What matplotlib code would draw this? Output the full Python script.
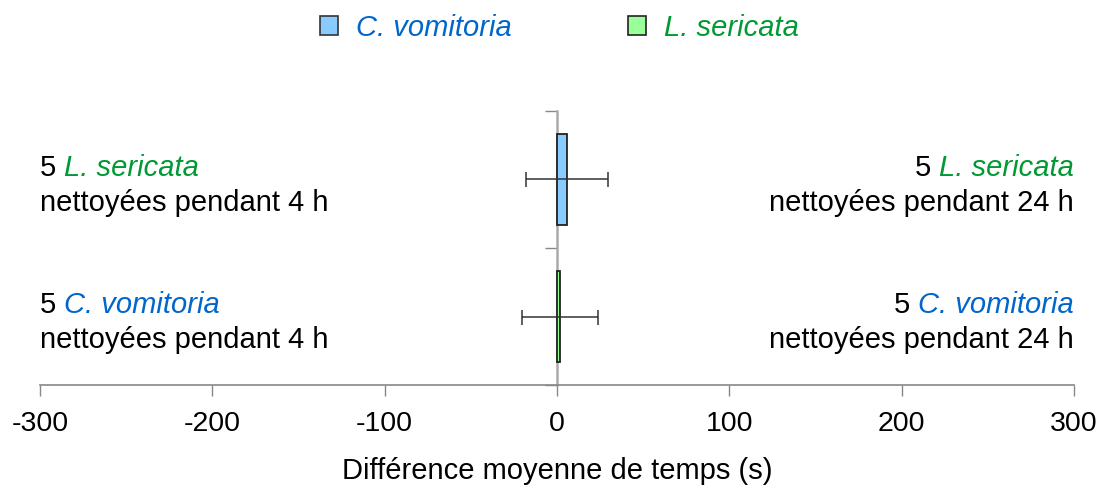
import matplotlib
matplotlib.use('Agg')
import matplotlib.pyplot as plt
from matplotlib.patches import Patch

plt.rcParams['font.family'] = ['Liberation Sans', 'DejaVu Sans']

# data (row 0 = bottom, row 1 = top)
rows = [0, 1]
means = [1.8, 5.8]
errs = [22, 24]
bar_colors = ['#99ff99', '#88ccff']
species = ['C. vomitoria', 'L. sericata']
species_colors = {'C. vomitoria': '#0066cc', 'L. sericata': '#009933'}
left_labels = [('C. vomitoria', 'nettoyées pendant 4 h'), ('L. sericata', 'nettoyées pendant 4 h')]
right_labels = [('C. vomitoria', 'nettoyées pendant 24 h'), ('L. sericata', 'nettoyées pendant 24 h')]
xticks = [-300, -200, -100, 0, 100, 200, 300]

fs = 21

fig = plt.figure(figsize=(11, 4.86), dpi=100)
ax = fig.add_axes([40/1100, 1-385/486, 1034/1100, 274/486])

ax.barh(rows, means, height=0.67, color=bar_colors, edgecolor='#222222', linewidth=1.3, zorder=3)
ax.errorbar(means, rows, xerr=errs, fmt='none', ecolor='#333333', elinewidth=1.1, capsize=5.4, capthick=1.1, zorder=4)

ax.set_xlim(-300, 300)
ax.set_ylim(-0.5, 1.5)
ax.set_xticks(xticks)
ax.set_xticklabels([str(t) for t in xticks], fontsize=fs - 0.5)
ax.set_yticks([-0.5, 0.5, 1.5])
ax.set_yticklabels([])

for s in ['top', 'right']:
    ax.spines[s].set_visible(False)
ax.spines['left'].set_position(('data', 0))
ax.spines['left'].set_color('#aaaaaa')
ax.spines['left'].set_linewidth(1.8)
ax.spines['bottom'].set_color('#888888')
ax.spines['bottom'].set_linewidth(1.2)
ax.tick_params(axis='x', length=8, width=1, color='#888888', pad=11)
ax.tick_params(axis='y', length=9, width=1, color='#888888', direction='out')

ax.set_xlabel('Différence moyenne de temps (s)', fontsize=fs, labelpad=14)

up = 2.2     # baseline of first line above row centre (pt)
down = -22.5  # baseline of second line below row centre (pt)
for r, (sp, txt) in zip(rows, left_labels):
    t1 = ax.annotate('5 ', xy=(-300, r), xytext=(0, up), textcoords='offset points',
                     ha='left', va='baseline', fontsize=fs, color='black')
    ax.annotate(sp, xy=(1, 0), xycoords=t1, ha='left', va='bottom', fontsize=fs,
                style='italic', color=species_colors[sp])
    ax.annotate(txt, xy=(-300, r), xytext=(0, down), textcoords='offset points',
                ha='left', va='baseline', fontsize=fs, color='black')

for r, (sp, txt) in zip(rows, right_labels):
    t1 = ax.annotate(sp, xy=(300, r), xytext=(0, up), textcoords='offset points',
                     ha='right', va='baseline', fontsize=fs, style='italic', color=species_colors[sp])
    ax.annotate('5 ', xy=(0, 0), xycoords=t1, ha='right', va='bottom', fontsize=fs, color='black')
    ax.annotate(txt, xy=(300, r), xytext=(0, down), textcoords='offset points',
                ha='right', va='baseline', fontsize=fs, color='black')

handles = [Patch(facecolor='#88ccff', edgecolor='#333333', linewidth=1.2),
           Patch(facecolor='#99ff99', edgecolor='#222222', linewidth=1.2)]
leg = fig.legend(handles, species, loc='center', bbox_to_anchor=(0.5085, 1-28/486), ncol=2,
                 frameon=False, prop={'style': 'italic', 'size': fs},
                 labelcolor=[species_colors[s] for s in species],
                 handlelength=0.6, handleheight=0.6, handletextpad=0.62, columnspacing=4.0)

fig.savefig('out.png', dpi=100)
